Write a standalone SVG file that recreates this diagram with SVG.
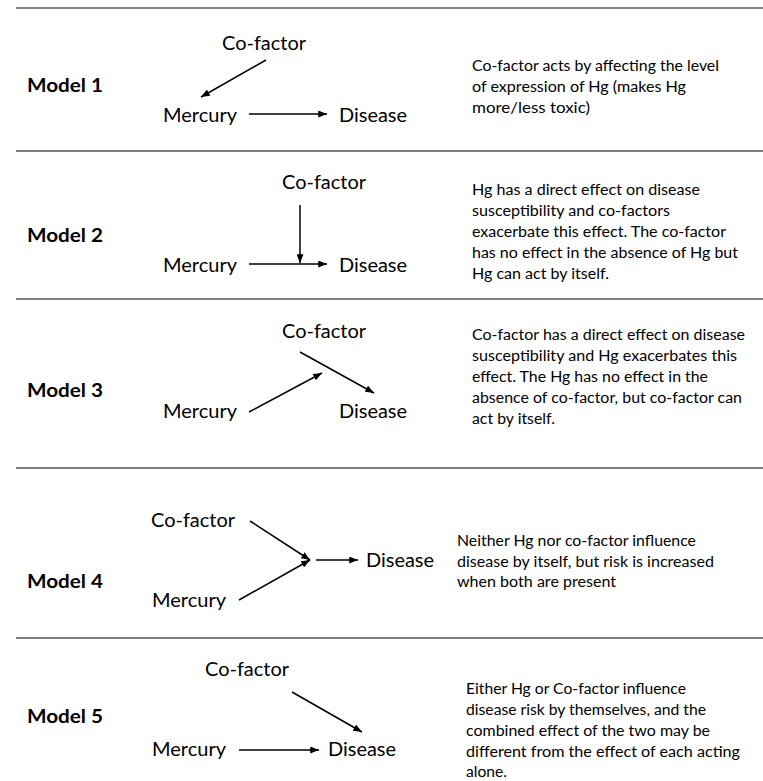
<svg xmlns="http://www.w3.org/2000/svg" width="763" height="781" viewBox="0 0 763 781">
<defs>
<marker id="ah" viewBox="0 0 10 8" refX="10" refY="4" markerWidth="9" markerHeight="7" markerUnits="userSpaceOnUse" orient="auto">
<path d="M0,0 L10,4 L0,8 z" fill="#000"/>
</marker>
</defs>
<style>
.sep{stroke:#555;stroke-width:1.5}
.lbl{font-family:Lato,"Open Sans","Liberation Sans",sans-serif;font-weight:bold;font-size:18px;fill:#000}
.nd{font-family:Lato,"Open Sans","Liberation Sans",sans-serif;font-size:18.5px;fill:#000}
.ds{font-family:Lato,"Open Sans","Liberation Sans",sans-serif;font-size:14.5px;fill:#000}
.cn{stroke:#000;stroke-width:1.5;fill:none;marker-end:url(#ah)}
.cp{stroke:#000;stroke-width:1.5;fill:none}
</style>
<rect width="763" height="781" fill="#fff"/>
<g id="separators">
<line class="sep" x1="16" y1="8" x2="763" y2="8"/>
<line class="sep" x1="16" y1="151" x2="763" y2="151"/>
<line class="sep" x1="16" y1="299" x2="763" y2="299"/>
<line class="sep" x1="16" y1="468" x2="763" y2="468"/>
<line class="sep" x1="16" y1="638" x2="763" y2="638"/>
</g>

<!-- Model 1 -->
<g id="m1-label"><text class="lbl" x="27" y="92" textLength="76" lengthAdjust="spacingAndGlyphs">Model 1</text></g>
<g id="m1-cofactor"><text class="nd" x="222" y="50" textLength="84" lengthAdjust="spacingAndGlyphs">Co-factor</text></g>
<g id="m1-mercury"><text class="nd" x="163" y="122" textLength="74" lengthAdjust="spacingAndGlyphs">Mercury</text></g>
<g id="m1-disease"><text class="nd" x="339" y="122" textLength="68" lengthAdjust="spacingAndGlyphs">Disease</text></g>
<g id="m1-desc">
<text class="ds" x="472" y="71" textLength="247" lengthAdjust="spacingAndGlyphs">Co-factor acts by affecting the level</text>
<text class="ds" x="472" y="92" textLength="214" lengthAdjust="spacingAndGlyphs">of expression of Hg (makes Hg</text>
<text class="ds" x="472" y="113" textLength="118" lengthAdjust="spacingAndGlyphs">more/less  toxic)</text>
</g>

<!-- Model 2 -->
<g id="m2-label"><text class="lbl" x="27" y="242" textLength="76" lengthAdjust="spacingAndGlyphs">Model 2</text></g>
<g id="m2-cofactor"><text class="nd" x="282" y="189" textLength="84" lengthAdjust="spacingAndGlyphs">Co-factor</text></g>
<g id="m2-mercury"><text class="nd" x="163" y="272" textLength="74" lengthAdjust="spacingAndGlyphs">Mercury</text></g>
<g id="m2-disease"><text class="nd" x="339" y="272" textLength="68" lengthAdjust="spacingAndGlyphs">Disease</text></g>
<g id="m2-desc">
<text class="ds" x="472" y="195" textLength="228" lengthAdjust="spacingAndGlyphs">Hg has a direct effect on disease</text>
<text class="ds" x="472" y="216" textLength="198" lengthAdjust="spacingAndGlyphs">susceptibility  and co-factors</text>
<text class="ds" x="472" y="237" textLength="254" lengthAdjust="spacingAndGlyphs">exacerbate this effect. The co-factor</text>
<text class="ds" x="472" y="258" textLength="266" lengthAdjust="spacingAndGlyphs">has no effect in the absence of Hg but</text>
<text class="ds" x="472" y="279" textLength="137" lengthAdjust="spacingAndGlyphs">Hg can act by itself.</text>
</g>

<!-- Model 3 -->
<g id="m3-label"><text class="lbl" x="27" y="397" textLength="76" lengthAdjust="spacingAndGlyphs">Model 3</text></g>
<g id="m3-cofactor"><text class="nd" x="282" y="338" textLength="84" lengthAdjust="spacingAndGlyphs">Co-factor</text></g>
<g id="m3-mercury"><text class="nd" x="163" y="418" textLength="74" lengthAdjust="spacingAndGlyphs">Mercury</text></g>
<g id="m3-disease"><text class="nd" x="339" y="418" textLength="68" lengthAdjust="spacingAndGlyphs">Disease</text></g>
<g id="m3-desc">
<text class="ds" x="472" y="340" textLength="273" lengthAdjust="spacingAndGlyphs">Co-factor has a direct effect on disease</text>
<text class="ds" x="472" y="361" textLength="265" lengthAdjust="spacingAndGlyphs">susceptibility  and Hg exacerbates this</text>
<text class="ds" x="472" y="382" textLength="236" lengthAdjust="spacingAndGlyphs">effect. The Hg has no effect in the</text>
<text class="ds" x="472" y="403" textLength="270" lengthAdjust="spacingAndGlyphs">absence of co-factor, but co-factor can</text>
<text class="ds" x="472" y="424" textLength="83" lengthAdjust="spacingAndGlyphs">act by itself.</text>
</g>

<!-- Model 4 -->
<g id="m4-label"><text class="lbl" x="27" y="588" textLength="76" lengthAdjust="spacingAndGlyphs">Model 4</text></g>
<g id="m4-cofactor"><text class="nd" x="151" y="527" textLength="84" lengthAdjust="spacingAndGlyphs">Co-factor</text></g>
<g id="m4-mercury"><text class="nd" x="152" y="607" textLength="74" lengthAdjust="spacingAndGlyphs">Mercury</text></g>
<g id="m4-disease"><text class="nd" x="366" y="567" textLength="68" lengthAdjust="spacingAndGlyphs">Disease</text></g>
<g id="m4-desc">
<text class="ds" x="457" y="546" textLength="239" lengthAdjust="spacingAndGlyphs">Neither Hg nor co-factor influence</text>
<text class="ds" x="457" y="567" textLength="257" lengthAdjust="spacingAndGlyphs">disease by itself, but risk is increased</text>
<text class="ds" x="457" y="587" textLength="159" lengthAdjust="spacingAndGlyphs">when both are present</text>
</g>

<!-- Model 5 -->
<g id="m5-label"><text class="lbl" x="27" y="723" textLength="76" lengthAdjust="spacingAndGlyphs">Model 5</text></g>
<g id="m5-cofactor"><text class="nd" x="205" y="676" textLength="84" lengthAdjust="spacingAndGlyphs">Co-factor</text></g>
<g id="m5-mercury"><text class="nd" x="152" y="756" textLength="74" lengthAdjust="spacingAndGlyphs">Mercury</text></g>
<g id="m5-disease"><text class="nd" x="328" y="756" textLength="68" lengthAdjust="spacingAndGlyphs">Disease</text></g>
<g id="m5-desc">
<text class="ds" x="466" y="694" textLength="220" lengthAdjust="spacingAndGlyphs">Either Hg or Co-factor influence</text>
<text class="ds" x="466" y="715" textLength="240" lengthAdjust="spacingAndGlyphs">disease  risk by themselves,  and the</text>
<text class="ds" x="466" y="736" textLength="244" lengthAdjust="spacingAndGlyphs">combined  effect of the two may be</text>
<text class="ds" x="466" y="757" textLength="274" lengthAdjust="spacingAndGlyphs">different from the effect of each acting</text>
<text class="ds" x="466" y="777" textLength="41" lengthAdjust="spacingAndGlyphs">alone.</text>
</g>

<g id="connectors">
<line class="cn" x1="266" y1="60" x2="201" y2="97"/>
<line class="cn" x1="249" y1="114" x2="327" y2="114"/>

<line class="cn" x1="249" y1="264" x2="327" y2="264"/>
<line class="cn" x1="300" y1="205" x2="300" y2="263"/>

<line class="cn" x1="249" y1="412" x2="322" y2="373"/>
<line class="cn" x1="300" y1="352" x2="374" y2="393"/>

<line class="cn" x1="250" y1="521" x2="310" y2="560"/>
<line class="cn" x1="239" y1="600" x2="310" y2="560"/>
<line class="cn" x1="316" y1="560" x2="358" y2="560"/>

<line class="cn" x1="239" y1="750" x2="319" y2="750"/>
<line class="cn" x1="292" y1="692" x2="362" y2="732"/>
</g>
</svg>
